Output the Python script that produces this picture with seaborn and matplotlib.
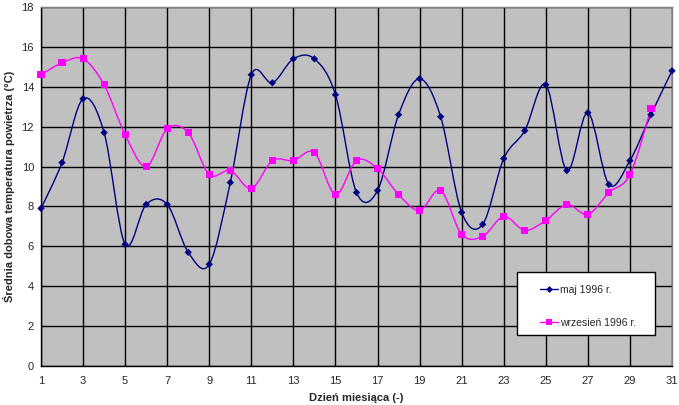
import matplotlib
matplotlib.use('Agg')
import matplotlib.pyplot as plt
from matplotlib.path import Path
from matplotlib.patches import PathPatch, Rectangle
from matplotlib.lines import Line2D
import seaborn as sns
import pandas as pd
import numpy as np

days = list(range(1, 32))
maj = [7.9, 10.2, 13.4, 11.7, 6.1, 8.1, 8.1, 5.7, 5.1, 9.2,
       14.6, 14.2, 15.4, 15.4, 13.6, 8.7, 8.8, 12.6, 14.4, 12.5,
       7.7, 7.1, 10.4, 11.8, 14.1, 9.8, 12.7, 9.1, 10.3, 12.6, 14.8]
wrzesien = [14.6, 15.2, 15.4, 14.1, 11.6, 10.0, 11.9, 11.7, 9.6, 9.8,
            8.9, 10.3, 10.3, 10.7, 8.6, 10.3, 9.9, 8.6, 7.8, 8.8,
            6.6, 6.5, 7.5, 6.8, 7.3, 8.1, 7.6, 8.7, 9.6, 12.9]
labels = ['maj 1996 r.', 'wrzesień 1996 r.']
colors = ['#000080', '#FF00FF']
markers = ['D', 's']

df = pd.concat([
    pd.DataFrame({'day': days[:len(maj)], 'temp': maj, 'serie': labels[0]}),
    pd.DataFrame({'day': days[:len(wrzesien)], 'temp': wrzesien, 'serie': labels[1]}),
])


def smooth_path(x, y):
    # excel-like smoothed line: cubic bezier with catmull-rom control points
    p = np.column_stack([x, y]).astype(float)
    n = len(p)
    verts = [p[0]]
    codes = [Path.MOVETO]
    for i in range(n - 1):
        p0 = p[i - 1] if i > 0 else p[i]
        p3 = p[i + 2] if i + 2 < n else p[i + 1]
        c1 = p[i] + (p[i + 1] - p0) / 6.0
        c2 = p[i + 1] - (p3 - p[i]) / 6.0
        verts += [c1, c2, p[i + 1]]
        codes += [Path.CURVE4] * 3
    return Path(verts, codes)


sns.set_style('white', {'axes.facecolor': '#C0C0C0'})
plt.rcParams['font.family'] = ['Liberation Sans', 'DejaVu Sans']

fig = plt.figure(figsize=(6.79, 4.05), dpi=100)
ax = fig.add_axes([41 / 679, 1 - 366 / 405, 631 / 679, 359 / 405])

for lab, col in zip(labels, colors):
    d = df[df['serie'] == lab]
    ax.add_patch(PathPatch(smooth_path(d['day'], d['temp']), facecolor='none',
                           edgecolor=col, lw=1.0, zorder=3))

sns.scatterplot(data=df, x='day', y='temp', hue='serie', style='serie', size='serie',
                palette=dict(zip(labels, colors)), markers=dict(zip(labels, markers)),
                sizes=dict(zip(labels, [14, 26])),
                linewidth=0, ax=ax, legend=False, zorder=4, clip_on=False)

ax.set_xlim(1, 31)
ax.set_ylim(0, 18)
ax.set_xticks(range(1, 32, 2))
ax.set_yticks(range(0, 19, 2))
ax.grid(True, color='black', lw=1.0)
ax.set_axisbelow(True)
ax.tick_params(axis='both', labelsize=8, length=3, width=0.8, color='black',
               direction='out', pad=2)
ax.tick_params(axis='x', pad=4)
for s in ['left', 'bottom']:
    ax.spines[s].set_color('black')
    ax.spines[s].set_linewidth(1.0)
for s in ['top', 'right']:
    ax.spines[s].set_color('#808080')
    ax.spines[s].set_linewidth(1.0)

ax.set_xlabel('Dzień miesiąca (-)', fontsize=8, fontweight='bold', labelpad=5)
ax.set_ylabel('Średnia dobowa temperatura powietrza (°C)', fontsize=8,
              fontweight='bold', labelpad=5)

# legend box (white, black border) like in excel
ax.add_patch(Rectangle((0.754, 0.086), 0.219, 0.176, transform=ax.transAxes,
                       facecolor='white', edgecolor='black', lw=1.0, zorder=5))
handles = [Line2D([], [], color=c, marker=m, lw=1.0, markersize=ms, markeredgewidth=0)
           for c, m, ms in zip(colors, markers, [3.5, 5])]
leg = ax.legend(handles, labels, loc='upper left', bbox_to_anchor=(0.791, 0.226),
                frameon=False, fontsize=7.5, labelspacing=2.2,
                handlelength=1.7, handletextpad=0.2, borderpad=0, borderaxespad=0)
leg.set_zorder(6)

fig.savefig('out.png', dpi=100)
